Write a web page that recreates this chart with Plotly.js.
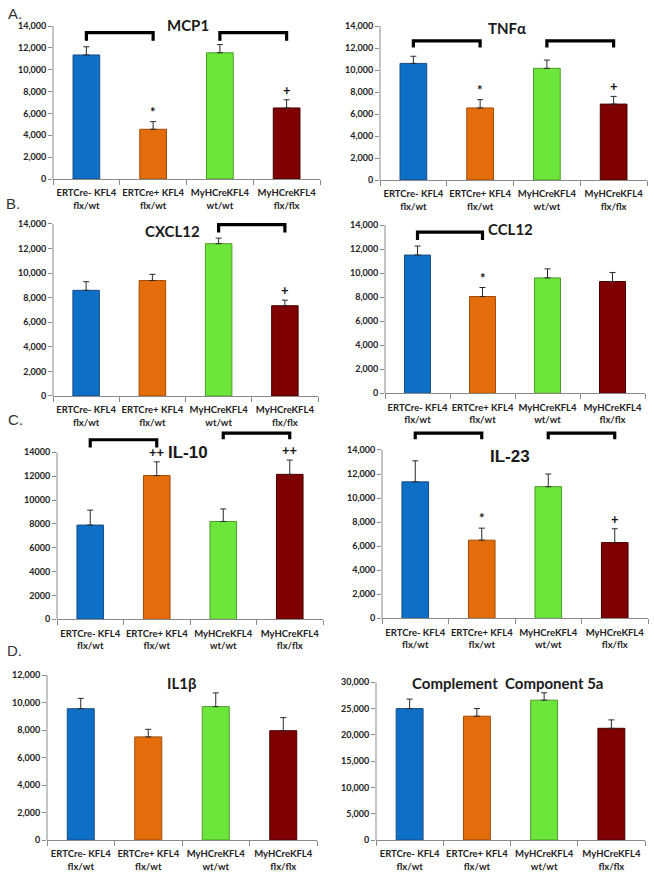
<!DOCTYPE html>
<html><head><meta charset="utf-8">
<script src="https://cdn.plot.ly/plotly-3.0.1.min.js"></script>
<style>html,body{margin:0;padding:0;background:#fff}#chart{width:654px;height:878px}</style>
</head><body><div id="chart"></div>
<script>
// ---------- data ----------
const categories = ['ERTCre- KFL4<br>flx/wt', 'ERTCre+ KFL4<br>flx/wt', 'MyHCreKFL4<br>wt/wt', 'MyHCreKFL4<br>flx/flx'];
const barColors = ['#0E6FC6', '#E46C0A', '#6CE63A', '#7E0000'];
const barLines  = ['#1A4C84', '#A04C08', '#4C9C2A', '#4A0000'];

const mcp1     = [11350, 4550, 11550, 6500];
const mcp1Err  = [750, 700, 750, 750];
const mcp1Sig  = ['', '*', '', '+'];

const tnfa     = [10600, 6550, 10150, 6900];
const tnfaErr  = [650, 750, 750, 700];
const tnfaSig  = ['', '*', '', '+'];

const cxcl12    = [8600, 9400, 12400, 7350];
const cxcl12Err = [700, 500, 450, 450];
const cxcl12Sig = ['', '', '', '+'];

const ccl12    = [11500, 8050, 9600, 9300];
const ccl12Err = [750, 750, 750, 750];
const ccl12Sig = ['', '*', '', ''];

const il10    = [7900, 12050, 8200, 12150];
const il10Err = [1250, 1150, 1050, 1200];
const il10Sig = ['', '++', '', '++'];

const il23    = [11350, 6500, 10950, 6300];
const il23Err = [1750, 1000, 1050, 1150];
const il23Sig = ['', '*', '', '+'];

const il1b    = [9550, 7500, 9700, 7950];
const il1bErr = [750, 550, 1000, 950];
const il1bSig = ['', '', '', ''];

const c5a    = [25000, 23550, 26600, 21250];
const c5aErr = [1800, 1450, 1400, 1600];
const c5aSig = ['', '', '', ''];

// significance brackets: [from category, to category, top value, leg-end value]
const mcp1Brackets   = [[0, 1, 13400, 12650], [2, 3, 13400, 12650]];
const tnfaBrackets   = [[0, 1, 12650, 12050], [2, 3, 12650, 12050]];
const cxcl12Brackets = [[2, 3, 13950, 13300]];
const ccl12Brackets  = [[0, 1, 13400, 12750]];
const il10Brackets   = [[0, 1, 15050, 14400], [2, 3, 15600, 15100]];
const il23Brackets   = [[0, 1, 15400, 14900], [2, 3, 15400, 14900]];

// ---------- panel geometry (pixels in the 654x878 page) ----------
const W = 654, H = 878;
const panels = [
  {title:'MCP1', vals:mcp1, err:mcp1Err, sig:mcp1Sig, br:mcp1Brackets, x0:53, x1:320, y0:179, yT:26, top:14000, rmax:14000, dt:2000, fmt:',d', tx:188, ty:25, tf:'t1'},
  {title:'TNFα', vals:tnfa, err:tnfaErr, sig:tnfaSig, br:tnfaBrackets, x0:380, x1:647, y0:180, yT:26, top:14000, rmax:14000, dt:2000, fmt:',d', tx:507, ty:28, tf:'t1'},
  {title:'CXCL12', vals:cxcl12, err:cxcl12Err, sig:cxcl12Sig, br:cxcl12Brackets, x0:53, x1:318, y0:396, yT:224, top:14000, rmax:14500, dt:2000, fmt:',d', tx:172, ty:231, tf:'t1'},
  {title:'CCL12', vals:ccl12, err:ccl12Err, sig:ccl12Sig, br:ccl12Brackets, x0:385, x1:645, y0:393.3, yT:225, top:14000, rmax:14000, dt:2000, fmt:',d', tx:510, ty:229, tf:'t1'},
  {title:'IL-10', vals:il10, err:il10Err, sig:il10Sig, br:il10Brackets, x0:57, x1:323, y0:619.3, yT:452.3, top:14000, rmax:16000, dt:2000, fmt:'d', tx:188, ty:452, tf:'t2'},
  {title:'IL-23', vals:il23, err:il23Err, sig:il23Sig, br:il23Brackets, x0:382, x1:648, y0:618.3, yT:450, top:14000, rmax:16000, dt:2000, fmt:',d', tx:510, ty:456, tf:'t2'},
  {title:'IL1β', vals:il1b, err:il1bErr, sig:il1bSig, br:[], x0:47, x1:317, y0:840, yT:675, top:12000, rmax:12000, dt:2000, fmt:',d', tx:182, ty:683, tf:'t1'},
  {title:'Complement\u00a0 Component 5a', vals:c5a, err:c5aErr, sig:c5aSig, br:[], x0:376, x1:645, y0:840, yT:682.3, top:30000, rmax:30000, dt:5000, fmt:',d', tx:507, ty:683, tf:'t1'}
];
const letters = [['A.', 15, 13.5], ['B.', 13, 203], ['C.', 15, 420], ['D.', 14, 650]];

const titleFonts = {
  t1: {family:'Lato, "Open Sans", sans-serif', size:15, color:'#1a1a1a', weight:'bold'},
  t2: {family:'Arial, "Liberation Sans", sans-serif', size:17, color:'#1a1a1a', weight:'bold'}
};

const traces = [];
const layout = {
  width: W, height: H,
  margin: {l:0, r:0, t:0, b:0},
  paper_bgcolor: '#fff', plot_bgcolor: 'rgba(0,0,0,0)',
  showlegend: false, hovermode: false,
  bargap: 0.6,
  annotations: [], shapes: []
};

panels.forEach((p, k) => {
  const n = k + 1;
  const xa = n === 1 ? 'x' : 'x' + n;
  const ya = n === 1 ? 'y' : 'y' + n;
  const xKey = n === 1 ? 'xaxis' : 'xaxis' + n;
  const yKey = n === 1 ? 'yaxis' : 'yaxis' + n;
  const ppu = (p.y0 - p.yT) / p.top;
  const topPx = p.y0 - p.rmax * ppu;

  traces.push({
    type: 'bar', x: categories, y: p.vals, xaxis: xa, yaxis: ya,
    marker: {color: barColors, line: {color: barLines, width: 1}},
    error_y: {type: 'data', symmetric: false, array: p.err, arrayminus: p.err.map(() => 0),
              color: '#2a2a2a', thickness: 1, width: 3},
    hoverinfo: 'skip'
  });

  p.br.forEach(b => {
    traces.push({
      type: 'scatter', mode: 'lines', xaxis: xa, yaxis: ya,
      x: [categories[b[0]], categories[b[0]], categories[b[1]], categories[b[1]]],
      y: [b[3], b[2], b[2], b[3]],
      line: {color: '#000', width: 3.2}, hoverinfo: 'skip'
    });
  });

  layout[xKey] = {
    domain: [p.x0 / W, p.x1 / W], anchor: ya,
    type: 'category', categoryorder: 'array', categoryarray: categories,
    showline: true, linecolor: '#8a8a8a', linewidth: 1,
    ticks: 'outside', tickson: 'boundaries', ticklen: 5, tickcolor: '#8a8a8a',
    tickangle: 0, automargin: false, ticklabelstandoff: 5,
    showgrid: false, zeroline: false, fixedrange: true,
    tickfont: {family: 'Lato, "Open Sans", sans-serif', size: 9.5, color: '#222', weight: 'bold'}
  };
  const tv = [];
  for (let v = 0; v <= p.top; v += p.dt) tv.push(v);
  layout[yKey] = {
    domain: [1 - p.y0 / H, 1 - topPx / H], anchor: xa,
    range: [0, p.rmax], tickvals: tv, tickformat: p.fmt,
    showline: false, ticks: 'outside', ticklen: 4, tickcolor: '#8a8a8a',
    showgrid: false, zeroline: false, fixedrange: true, automargin: false,
    tickfont: {family: 'Lato, "Open Sans", sans-serif', size: 9, color: '#222', weight: 'bold'}
  };
  // y axis line only up to the top tick
  layout.shapes.push({type: 'line', xref: xa + ' domain', yref: ya, x0: 0, x1: 0, y0: 0, y1: p.top,
                      line: {color: '#8a8a8a', width: 1}});

  p.sig.forEach((s, i) => {
    if (!s) return;
    layout.annotations.push({
      xref: xa, yref: ya, x: categories[i], y: p.vals[i] + p.err[i],
      yanchor: 'bottom', xanchor: 'center', showarrow: false, text: s,
      font: {family: 'Lato, "Open Sans", sans-serif', size: 13, color: '#111', weight: 'bold'}
    });
  });

  layout.annotations.push({
    xref: 'paper', yref: 'paper', x: p.tx / W, y: 1 - p.ty / H,
    xanchor: 'center', yanchor: 'middle', showarrow: false, text: p.title,
    font: titleFonts[p.tf]
  });
});

letters.forEach(l => {
  layout.annotations.push({
    xref: 'paper', yref: 'paper', x: l[1] / W, y: 1 - l[2] / H,
    xanchor: 'center', yanchor: 'middle', showarrow: false, text: l[0],
    font: {family: 'Arial, "Liberation Sans", sans-serif', size: 15, color: '#333'}
  });
});

Plotly.newPlot('chart', traces, layout, {staticPlot: true, displayModeBar: false});
</script>
</body></html>
